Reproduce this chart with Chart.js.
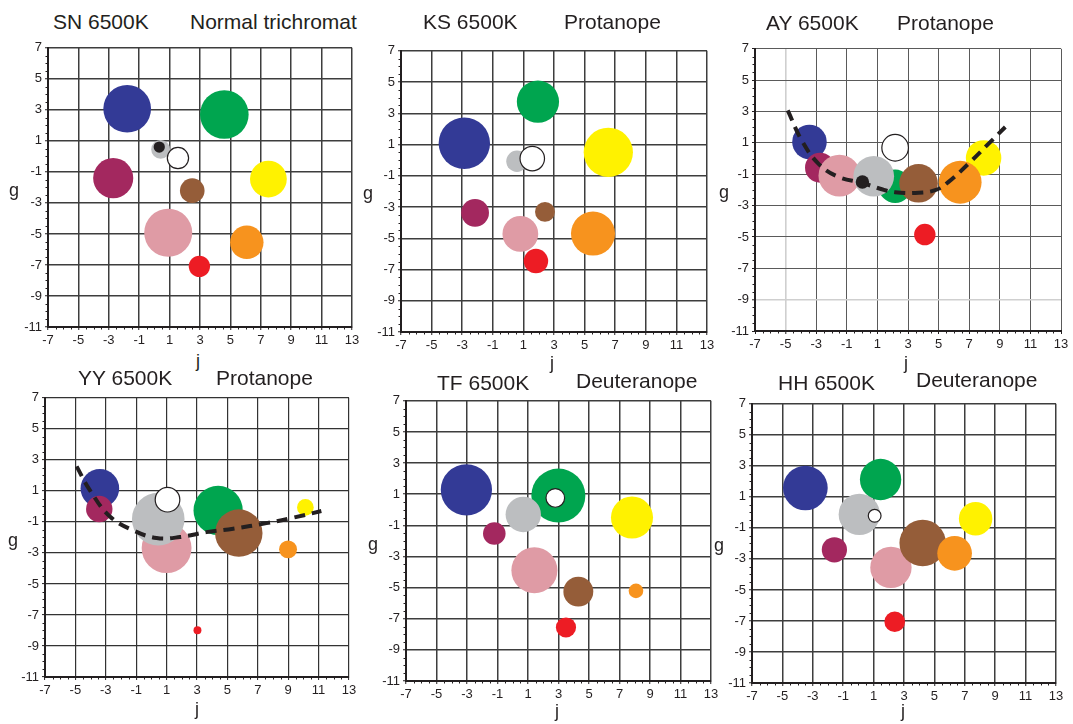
<!DOCTYPE html>
<html>
<head>
<meta charset="utf-8">
<script src="https://cdn.jsdelivr.net/npm/chart.js@4.4.1/dist/chart.umd.min.js"></script>
<style>
  html, body { margin: 0; padding: 0; background: #ffffff; }
  body { position: relative; width: 1073px; height: 724px; overflow: hidden;
         font-family: "Liberation Sans", Arial, Helvetica, sans-serif; color: #231f20; }
  canvas { position: absolute; }
  .title { position: absolute; font-size: 21px; line-height: 21px; white-space: nowrap; }
  .axt { position: absolute; font-size: 18px; line-height: 18px; }
</style>
</head>
<body>
<script>
// Colour samples, in drawing order (first = bottom)
const samples = ['blue', 'green', 'maroon', 'pink', 'yellow', 'gray', 'brown', 'orange', 'red', 'black', 'white'];

// Axis tick labels
const jTicks = [-7, -5, -3, -1, 1, 3, 5, 7, 9, 11, 13];
const gTicks = [-11, -9, -7, -5, -3, -1, 1, 3, 5, 7];

// SN 6500K, normal trichromat: j, g and circle radius (in j units)
const snJ    = [-1.79, 4.60, -2.71, 0.91, 7.50, 0.41, 2.49, 6.08, 2.96, 0.32, 1.55];
const snG    = [ 3.07, 2.70, -1.40, -4.92, -1.46, 0.45, -2.21, -5.54, -7.09, 0.60, -0.11];
const snSize = [ 1.57, 1.60, 1.32, 1.58, 1.21, 0.62, 0.81, 1.10, 0.70, 0.37, 0.70];

// KS 6500K, protanope
const ksJ    = [-2.86, 1.95, -2.16, 0.80, 6.55, 0.58, 2.41, 5.55, 1.82, null, 1.58];
const ksG    = [ 1.08, 3.74, -3.37, -4.72, 0.50, -0.07, -3.31, -4.70, -6.46, null, 0.10];
const ksSize = [ 1.68, 1.38, 0.91, 1.17, 1.61, 0.70, 0.65, 1.44, 0.80, null, 0.80];

// AY 6500K, protanope
const ayJ    = [-3.44, 2.16, -2.75, -1.48, 7.94, 0.76, 3.69, 6.41, 4.10, 0.02, 2.16];
const ayG    = [ 1.06, -1.77, -0.58, -1.09, 0.04, -1.13, -1.58, -1.51, -4.85, -1.49, 0.69];
const aySize = [ 1.13, 1.09, 0.98, 1.37, 1.16, 1.33, 1.26, 1.40, 0.70, 0.44, 0.87];
const ayCurveJ = [-4.86, -3.95, -2.86, -1.55, 0.02, 1.29, 2.16, 3.47, 4.78, 5.65, 6.96, 8.27, 9.36];
const ayCurveG = [ 3.07, 1.16, -0.32, -1.17, -1.56, -1.96, -2.15, -2.19, -2.02, -1.49, -0.32, 0.95, 2.01];

// YY 6500K, protanope
const yyJ    = [-3.39, 4.39, -3.43, 1.00, 10.13, 0.45, 5.75, 8.99, 3.03, null, 1.06];
const yyG    = [ 1.16, -0.26, -0.17, -2.69, -0.07, -0.82, -1.72, -2.77, -7.99, null, 0.43];
const yySize = [ 1.27, 1.62, 0.87, 1.64, 0.55, 1.73, 1.56, 0.59, 0.26, null, 0.81];
const yyCurveJ = [-4.92, -4.04, -2.73, -1.19, 0.34, 1.87, 3.62, 5.38, 7.57, 9.32, 11.18];
const yyCurveG = [ 2.58, 1.03, -0.65, -1.55, -2.04, -1.98, -1.66, -1.44, -1.08, -0.73, -0.30];

// TF 6500K, deuteranope
const tfJ    = [-3.04, 2.99, -1.21, 1.42, 7.82, 0.69, 4.30, 8.08, 3.49, null, 2.79];
const tfG    = [ 1.28, 0.91, -1.52, -3.89, -0.50, -0.30, -5.26, -5.21, -7.56, null, 0.76];
const tfSize = [ 1.68, 1.77, 0.74, 1.51, 1.38, 1.16, 0.98, 0.48, 0.66, null, 0.61];

// HH 6500K, deuteranope
const hhJ    = [-3.49, 1.46, -1.58, 2.14, 7.71, 0.06, 4.23, 6.33, 2.39, null, 1.07];
const hhG    = [ 1.57, 2.12, -2.41, -3.55, -0.41, -0.13, -1.98, -2.64, -7.05, null, -0.22];
const hhSize = [ 1.47, 1.36, 0.83, 1.36, 1.10, 1.36, 1.53, 1.14, 0.68, null, 0.42];

// ---- styling and layout ----
const fillOf = {
  blue: '#333a96', green: '#00a54f', maroon: '#a3285f', pink: '#df9ba5', yellow: '#fff200',
  gray: '#bcbec0', brown: '#955d39', orange: '#f7931e', red: '#ed1c24', black: '#231f20', white: '#ffffff'
};
const INK = '#231f20';
const FONT = '"Liberation Sans", Arial, Helvetica, sans-serif';

const panels = [
  { name: 'SN 6500K', kind: 'Normal trichromat', j: snJ, g: snG, size: snSize,
    area: [48, 47, 352, 327], gridW: 1.5, gridC: '#3d3d3d',
    nameAt: [53, 11], kindAt: [190, 11], gAt: [9, 181], jAt: [196, 352] },
  { name: 'KS 6500K', kind: 'Protanope', j: ksJ, g: ksG, size: ksSize,
    area: [401, 50, 707, 332], gridW: 1.5, gridC: '#3d3d3d',
    nameAt: [423, 11], kindAt: [564, 11], gAt: [363, 184], jAt: [550, 354] },
  { name: 'AY 6500K', kind: 'Protanope', j: ayJ, g: ayG, size: aySize,
    curveJ: ayCurveJ, curveG: ayCurveG,
    area: [755, 48, 1061, 331], gridW: 1, gridC: '#5a5a5a', pale: { x: -5, y: -9 },
    nameAt: [766, 12], kindAt: [897, 12], gAt: [719, 183], jAt: [904, 354] },
  { name: 'YY 6500K', kind: 'Protanope', j: yyJ, g: yyG, size: yySize,
    curveJ: yyCurveJ, curveG: yyCurveG,
    area: [45, 397, 349, 677], gridW: 1.2, gridC: '#333333',
    nameAt: [78, 367], kindAt: [216, 367], gAt: [8, 531], jAt: [195, 700] },
  { name: 'TF 6500K', kind: 'Deuteranope', j: tfJ, g: tfG, size: tfSize,
    area: [406, 400, 711, 681], gridW: 1.5, gridC: '#3d3d3d',
    nameAt: [437, 372], kindAt: [576, 370], gAt: [368, 535], jAt: [555, 702] },
  { name: 'HH 6500K', kind: 'Deuteranope', j: hhJ, g: hhG, size: hhSize,
    area: [752, 403, 1056, 683], gridW: 1.5, gridC: '#3d3d3d',
    nameAt: [778, 372], kindAt: [916, 369], gAt: [714, 536], jAt: [901, 702] }
];

const Y_AXIS_W = 44, X_AXIS_H = 24, PAD_T = 10, PAD_R = 14;
const J_MIN = Math.min(...jTicks), J_MAX = Math.max(...jTicks);

// small outward minor ticks every 0.5 unit along the left and bottom axes
const minorTicks = {
  id: 'minorTicks',
  afterDraw(chart) {
    const { ctx, chartArea: a, scales: { x, y } } = chart;
    ctx.save();
    ctx.strokeStyle = INK;
    ctx.lineWidth = 1;
    ctx.beginPath();
    for (let v = x.min; v <= x.max + 1e-9; v += 0.5) {
      if (jTicks.includes(Math.round(v * 10) / 10)) continue;
      const px = Math.round(x.getPixelForValue(v)) + 0.5;
      ctx.moveTo(px, a.bottom); ctx.lineTo(px, a.bottom + 2.5);
    }
    for (let v = y.min; v <= y.max + 1e-9; v += 0.5) {
      if (gTicks.includes(Math.round(v * 10) / 10)) continue;
      const py = Math.round(y.getPixelForValue(v)) + 0.5;
      ctx.moveTo(a.left, py); ctx.lineTo(a.left - 2.5, py);
    }
    ctx.stroke();
    ctx.restore();
  }
};

function addText(cls, text, at) {
  const d = document.createElement('div');
  d.className = cls;
  d.textContent = text;
  d.style.left = at[0] + 'px';
  d.style.top = at[1] + 'px';
  document.body.appendChild(d);
}

function axisOptions(p, axis) {
  const isX = axis === 'x';
  const tickList = isX ? jTicks : gTicks;
  const paleValue = p.pale ? p.pale[axis] : null;
  return {
    type: 'linear',
    min: Math.min(...tickList),
    max: Math.max(...tickList),
    afterBuildTicks: s => { s.ticks = tickList.map(v => ({ value: v })); },
    afterFit: s => { if (isX) s.height = X_AXIS_H; else s.width = Y_AXIS_W; },
    grid: {
      color: c => (c.tick && c.tick.value === paleValue) ? '#cfcfcf' : p.gridC,
      lineWidth: c => (c.tick && c.tick.value === paleValue) ? 1.6 : p.gridW,
      drawTicks: true,
      tickLength: 3,
      tickColor: INK,
      tickWidth: 1
    },
    border: { display: true, color: INK, width: 2 },
    ticks: {
      color: INK,
      font: { family: FONT, size: 13 },
      padding: 3,
      autoSkip: false,
      maxRotation: 0,
      minRotation: 0
    }
  };
}

panels.forEach(p => {
  const [L, T, R, B] = p.area;
  const cv = document.createElement('canvas');
  const w = (R - L) + Y_AXIS_W + PAD_R;
  const h = (B - T) + PAD_T + X_AXIS_H;
  cv.width = w; cv.height = h;
  cv.style.left = (L - Y_AXIS_W) + 'px';
  cv.style.top = (T - PAD_T) + 'px';
  cv.style.width = w + 'px'; cv.style.height = h + 'px';
  document.body.appendChild(cv);

  // pixels per j unit of this plot, used to turn circle radii into bubble sizes
  const pxPerJ = (R - L) / (J_MAX - J_MIN);

  const pts = [], fills = [], borders = [], radii = [];
  samples.forEach((name, i) => {
    if (p.j[i] === null) return;
    pts.push({ x: p.j[i], y: p.g[i] });
    radii.push(p.size[i] * pxPerJ);
    fills.push(fillOf[name]);
    borders.push(name === 'white' ? 1.2 : 0);
  });

  const datasets = [{
    type: 'bubble',
    data: pts,
    backgroundColor: fills,
    borderColor: INK,
    borderWidth: borders,
    hoverBorderWidth: borders,
    radius: radii,
    hoverRadius: 0,
    clip: false,
    order: 1
  }];

  if (p.curveJ) {
    datasets.push({
      type: 'line',
      data: p.curveJ.map((x, i) => ({ x, y: p.curveG[i] })),
      borderColor: INK,
      borderWidth: 4,
      borderDash: [11, 7],
      borderCapStyle: 'butt',
      pointRadius: 0,
      tension: 0.4,
      fill: false,
      clip: false,
      order: 0
    });
  }

  new Chart(cv, {
    type: 'bubble',
    data: { datasets },
    options: {
      responsive: false,
      animation: false,
      events: [],
      layout: { autoPadding: false, padding: { top: PAD_T, right: PAD_R, left: 0, bottom: 0 } },
      plugins: { legend: { display: false }, tooltip: { enabled: false }, title: { display: false } },
      scales: { x: axisOptions(p, 'x'), y: axisOptions(p, 'y') }
    },
    plugins: [minorTicks]
  });

  addText('title', p.name, p.nameAt);
  addText('title', p.kind, p.kindAt);
  addText('axt', 'g', p.gAt);
  addText('axt', 'j', p.jAt);
});
</script>
</body>
</html>
